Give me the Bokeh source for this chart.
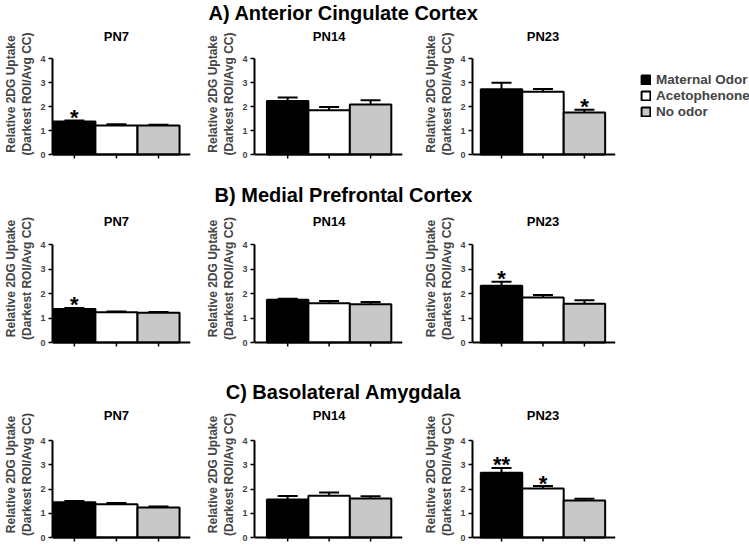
from bokeh.plotting import figure
from bokeh.models import (Range1d, FixedTicker, Whisker, TeeHead, ColumnDataSource, Label,
                          Legend, LegendItem)
from bokeh.layouts import column, row
from bokeh.embed import file_html
from bokeh.resources import INLINE
from bokeh.core.properties import value
from bokeh.core.validation import silence
from bokeh.core.validation.warnings import MISSING_RENDERERS

silence(MISSING_RENDERERS, True)

# ---------------- data ----------------
groups = ["Maternal Odor", "Acetophenone", "No odor"]
ages = ["PN7", "PN14", "PN23"]
regions = ["A) Anterior Cingulate Cortex", "B) Medial Prefrontal Cortex", "C) Basolateral Amygdala"]
ylabel = "Relative 2DG Uptake\n(Darkest ROI/Avg CC)"
yticks = [0, 1, 2, 3, 4]
ymax = 4

acc_mean = [[1.38, 1.21, 1.21], [2.23, 1.84, 2.08], [2.72, 2.61, 1.75]]
acc_sem = [[0.04, 0.05, 0.03], [0.14, 0.14, 0.18], [0.27, 0.12, 0.11]]
acc_sig = [["*", "", ""], ["", "", ""], ["", "", "*"]]

mpfc_mean = [[1.37, 1.23, 1.21], [1.74, 1.60, 1.56], [2.32, 1.84, 1.58]]
mpfc_sem = [[0.04, 0.04, 0.03], [0.05, 0.09, 0.09], [0.16, 0.10, 0.14]]
mpfc_sig = [["*", "", ""], ["", "", ""], ["*", "", ""]]

bla_mean = [[1.45, 1.37, 1.24], [1.57, 1.72, 1.61], [2.67, 2.02, 1.53]]
bla_sem = [[0.06, 0.05, 0.04], [0.14, 0.14, 0.09], [0.20, 0.10, 0.07]]
bla_sig = [["", "", ""], ["", "", ""], ["**", "*", ""]]

# ---------------- style / layout (pixels) ----------------
FONT = "Liberation Sans"
colors = ["#000000", "#ffffff", "#c8c8c8"]
PAGE_W = 749

col_fw = [138, 148, 143]
col_left = [52, 52, 52]
col_right = [12, 18, 13]
col_xr = [(-0.52, 2.76), (-0.80, 2.77), (-0.70, 2.75)]

# per row: canvas height, pixel height of the 0..4 axis, space above it, space below it
row_h = [155, 171, 147]
row_axis_px = [96, 98, 97]
row_above = [32, 37, 36]
row_title_off = [22, 23, 25]
BELOW_EXT = 5          # frame extends a little below 0 so the x tick marks show
TICK_PX = 4

hdr_h = [26, 26, 26]
hdr_mid = [12.6, 13, 13]


def panel(ci, ri, age, means, sems, sigs, with_legend=False):
    x0 = sum(col_left[k] + col_fw[k] + col_right[k] for k in range(ci))
    right = (PAGE_W - x0 - col_left[ci] - col_fw[ci]) if with_legend else col_right[ci]
    ppu = row_axis_px[ri] / ymax
    top_ext = row_above[ri] - 2
    frame_h = top_ext + row_axis_px[ri] + BELOW_EXT
    bottom_border = row_h[ri] - 2 - frame_h
    p = figure(frame_width=col_fw[ci], frame_height=frame_h,
               x_range=Range1d(*col_xr[ci]),
               y_range=Range1d(-BELOW_EXT / ppu, ymax + top_ext / ppu),
               output_backend="svg", toolbar_location=None, title=None,
               min_border_left=col_left[ci], min_border_right=right,
               min_border_top=2, min_border_bottom=bottom_border)
    tops = [m + s for m, s in zip(means, sems)]
    src = ColumnDataSource(dict(x=[0, 1, 2], mean=means, sem=sems, top=tops,
                                color=colors, group=groups))
    bars = p.vbar(x="x", top="mean", bottom=0, width=1, source=src,
                  fill_color="color", line_color="black", line_width=2)
    p.add_layout(Whisker(base="x", upper="top", lower="mean", source=src,
                         line_color="black", line_width=2,
                         upper_head=TeeHead(size=20, line_color="black", line_width=2),
                         lower_head=None))

    # x tick marks under each bar
    p.segment(x0="x", y0=0, x1="x", y1=-TICK_PX / ppu, source=src,
              line_color="black", line_width=1.5)

    sx = [i for i in range(3) if sigs[i]]
    if sx:
        ssrc = ColumnDataSource(dict(x=sx, y=[tops[i] for i in sx], t=[sigs[i] for i in sx]))
        p.text(x="x", y="y", text="t", source=ssrc, text_font=value(FONT),
               text_font_style="bold", text_font_size="22px", text_align="center",
               text_baseline="alphabetic", y_offset=-3, text_color="black")

    # panel title (PN age), centred over the middle bar
    p.add_layout(Label(x=1, y=ymax, y_offset=row_title_off[ri], text=age, text_align="center",
                       text_baseline="middle", text_font=FONT, text_font_style="bold",
                       text_font_size="13px", text_color="black"))

    p.grid.visible = False
    p.outline_line_color = None

    ya = p.yaxis[0]
    ya.bounds = (0, ymax)
    ya.ticker = FixedTicker(ticks=yticks)
    ya.minor_tick_line_color = None
    ya.major_tick_in = 0
    ya.major_tick_out = 4
    ya.major_tick_line_width = 1.5
    ya.axis_line_width = 2
    ya.major_label_standoff = 3
    ya.major_label_text_font = FONT
    ya.major_label_text_font_style = "bold"
    ya.major_label_text_font_size = "9px"
    ya.axis_label = ylabel
    ya.axis_label_text_font = FONT
    ya.axis_label_text_font_style = "bold"
    ya.axis_label_text_font_size = "12px"
    ya.axis_label_text_line_height = 1.15
    ya.axis_label_standoff = 3

    xa = p.xaxis[0]
    xa.fixed_location = 0
    xa.ticker = FixedTicker(ticks=[])
    xa.minor_tick_line_color = None
    xa.major_tick_line_color = None
    xa.major_tick_in = 0
    xa.major_tick_out = 0
    xa.major_label_standoff = 0
    xa.axis_label_standoff = 0
    xa.axis_line_width = 2

    if with_legend:
        items = [LegendItem(label=g, renderers=[bars], index=i) for i, g in enumerate(groups)]
        lg = Legend(items=items, location=(25, 40), margin=0, padding=0, spacing=0,
                    glyph_width=11, glyph_height=11, label_height=16, label_standoff=5,
                    label_text_font=FONT, label_text_font_style="bold",
                    label_text_font_size="13.5px", border_line_color=None,
                    background_fill_alpha=0)
        p.add_layout(lg, "right")
    return p


def header(ri, text):
    h = hdr_h[ri]
    p = figure(width=PAGE_W, height=h, x_range=Range1d(0, PAGE_W), y_range=Range1d(h, 0),
               output_backend="svg", toolbar_location=None, min_border=0, title=None,
               x_axis_type=None, y_axis_type=None)
    p.grid.visible = False
    p.outline_line_color = None
    p.add_layout(Label(x=343, y=hdr_mid[ri], text=text, text_align="center",
                       text_baseline="middle", text_font=FONT,
                       text_font_style="bold", text_font_size="20px", text_color="black"))
    return p


data = [(acc_mean, acc_sem, acc_sig), (mpfc_mean, mpfc_sem, mpfc_sig), (bla_mean, bla_sem, bla_sig)]
children = []
for ri, (mm, ss, sg) in enumerate(data):
    children.append(header(ri, regions[ri]))
    panels = [panel(ci, ri, ages[ci], mm[ci], ss[ci], sg[ci], with_legend=(ri == 0 and ci == 2))
              for ci in range(3)]
    children.append(row(*panels, spacing=0))

layout = column(*children, spacing=0)

open("out.html", "w").write(file_html(layout, INLINE))
